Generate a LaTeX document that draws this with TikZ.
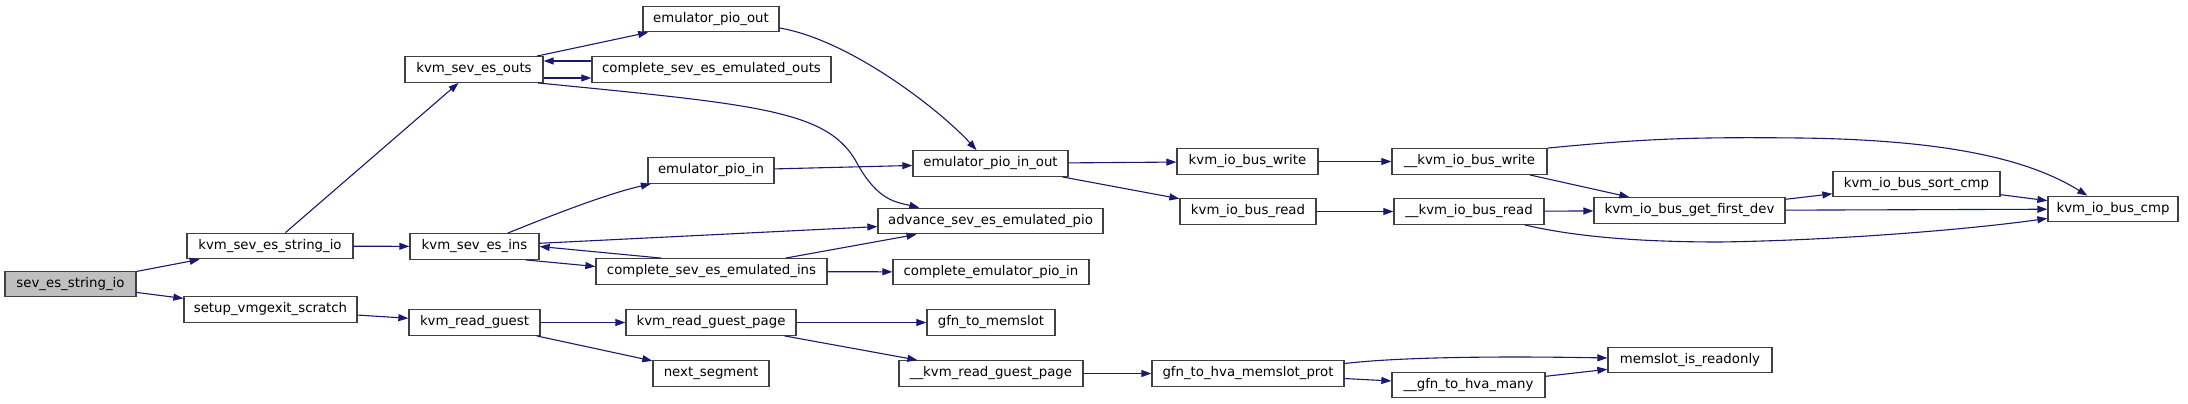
\documentclass[tikz,border=0pt]{standalone}
\usepackage{fontspec}
\setmainfont{DejaVu Sans}
\usetikzlibrary{arrows.meta}
\definecolor{edgeblue}{HTML}{191970}
\definecolor{boxgrey}{HTML}{404040}
\definecolor{rootgrey}{HTML}{BFBFBF}
\tikzset{
  fn/.style   = {draw=boxgrey, line width=1.3pt, fill=white, minimum height=25.5pt,
                 inner sep=0pt, font=\fontsize{13.3}{16}\selectfont},
  root/.style = {fn, fill=rootgrey},
  call/.style = {-{Triangle[length=10pt, width=7pt]}, draw=edgeblue, line width=1.1pt},
}

\begin{document}
\begin{tikzpicture}[x=1pt, y=-1pt]
  \useasboundingbox[fill=white] (0,0) rectangle (2188,404);
  % caller and first level
  \node[root, minimum width=131pt] (sev) at (70.5,284) {sev\_es\_string\_io};
  \node[fn, minimum width=166pt] (kvmstrio) at (270,246) {kvm\_sev\_es\_string\_io};
  \node[fn, minimum width=173pt] (setup) at (270.5,309.5) {setup\_vmgexit\_scratch};
  % second column
  \node[fn, minimum width=138pt] (outs) at (474,69.5) {kvm\_sev\_es\_outs};
  \node[fn, minimum width=129pt] (ins) at (474.5,246.5) {kvm\_sev\_es\_ins};
  \node[fn, minimum width=131pt] (readg) at (474.5,322.5) {kvm\_read\_guest};
  % third column
  \node[fn, minimum width=136pt] (pioout) at (711,19) {emulator\_pio\_out};
  \node[fn, minimum width=239pt] (cmpouts) at (711.5,69.5) {complete\_sev\_es\_emulated\_outs};
  \node[fn, minimum width=126pt] (pioin) at (711,170.5) {emulator\_pio\_in};
  \node[fn, minimum width=231pt] (cmpins) at (711.5,271.5) {complete\_sev\_es\_emulated\_ins};
  \node[fn, minimum width=170pt] (readgp) at (711,322.5) {kvm\_read\_guest\_page};
  \node[fn, minimum width=116pt] (nextseg) at (711,373.5) {next\_segment};
  % fourth column
  \node[fn, minimum width=155pt] (pioinout) at (990.5,163.5) {emulator\_pio\_in\_out};
  \node[fn, minimum width=225pt] (advance) at (990.5,221) {advance\_sev\_es\_emulated\_pio};
  \node[fn, minimum width=196pt] (cmppioin) at (991,272) {complete\_emulator\_pio\_in};
  \node[fn, minimum width=128pt] (gfnmem) at (991,322.5) {gfn\_to\_memslot};
  \node[fn, minimum width=184pt] (rgp) at (991,373.5) {\_\_kvm\_read\_guest\_page};
  % io bus and memslot helpers
  \node[fn, minimum width=141pt] (bwrite) at (1247.5,161.5) {kvm\_io\_bus\_write};
  \node[fn, minimum width=136pt] (bread) at (1248,211.5) {kvm\_io\_bus\_read};
  \node[fn, minimum width=192pt] (hvaprot) at (1248,373.5) {gfn\_to\_hva\_memslot\_prot};
  \node[fn, minimum width=155pt] (ubwrite) at (1469.5,161.5) {\_\_kvm\_io\_bus\_write};
  \node[fn, minimum width=150pt] (ubread) at (1469,211.5) {\_\_kvm\_io\_bus\_read};
  \node[fn, minimum width=153pt] (hvamany) at (1468.5,385) {\_\_gfn\_to\_hva\_many};
  \node[fn, minimum width=191pt] (firstdev) at (1689.5,210.5) {kvm\_io\_bus\_get\_first\_dev};
  \node[fn, minimum width=164pt] (readonly) at (1690,360) {memslot\_is\_readonly};
  \node[fn, minimum width=167pt] (sortcmp) at (1916.5,184) {kvm\_io\_bus\_sort\_cmp};
  \node[fn, minimum width=130pt] (buscmp) at (2113,209) {kvm\_io\_bus\_cmp};

  % calls
  \draw[call] (sev) -- (kvmstrio);
  \draw[call] (sev) -- (setup);
  \draw[call] (kvmstrio) -- (outs);
  \draw[call] (kvmstrio) -- (ins);
  \draw[call] (setup) -- (readg);
  \draw[call] (outs) -- (pioout);
  \draw[call] ([yshift=-8.5pt]outs.east) -- ([yshift=-8.5pt]cmpouts.west);
  \draw[call] ([yshift=8.5pt]cmpouts.west) -- ([yshift=8.5pt]outs.east);
  \draw[call] ([xshift=-6pt]outs.south east) .. controls (760,105) and (830,110) .. (858,165)
    .. controls (878,200) and (895,202) .. ([xshift=42pt]advance.north west);
  \draw[call] ([yshift=-9pt]pioout.east) .. controls (850,40) and (940,110) .. ([xshift=-14pt]pioinout.north);
  \draw[call] (ins) .. controls (560,212) and (610,193) .. (pioin);
  \draw[call] (ins) -- (advance);
  \draw[call] ([xshift=-14pt]ins.south east) -- ([yshift=5pt]cmpins.west);
  \draw[call] ([xshift=66pt]cmpins.north west) -- (ins.east);
  \draw[call] (cmpins) -- (advance);
  \draw[call] (cmpins) -- (cmppioin);
  \draw[call] (pioin) -- (pioinout);
  \draw[call] (readg) -- (readgp);
  \draw[call] (readg) -- (nextseg);
  \draw[call] (readgp) -- (gfnmem);
  \draw[call] (readgp) -- (rgp);
  \draw[call] (pioinout) -- (bwrite);
  \draw[call] (pioinout) -- (bread);
  \draw[call] (rgp) -- (hvaprot);
  \draw[call] (bwrite) -- (ubwrite);
  \draw[call] (bread) -- (ubread);
  \draw[call] ([yshift=10pt]hvaprot.east) .. controls (1400,357) and (1500,356) .. ([yshift=2pt]readonly.west);
  \draw[call] (hvaprot) -- (hvamany);
  \draw[call] (hvamany) -- (readonly);
  \draw[call] (ubwrite) -- (firstdev);
  \draw[call] (ubread) -- (firstdev);
  \draw[call] (ubwrite.north east) .. controls (1650,138) and (1700,137) .. (1800,138)
    .. controls (1950,140) and (2030,160) .. ([xshift=40pt]buscmp.north west);
  \draw[call] ([xshift=-20pt]ubread.south east) .. controls (1580,238) and (1650,242) .. (1720,242)
    .. controls (1850,240) and (1980,228) .. ([yshift=4pt]buscmp.south west);
  \draw[call] (firstdev) -- (sortcmp);
  \draw[call] (firstdev) -- (buscmp);
  \draw[call] (sortcmp) -- (buscmp);
\end{tikzpicture}
\end{document}
